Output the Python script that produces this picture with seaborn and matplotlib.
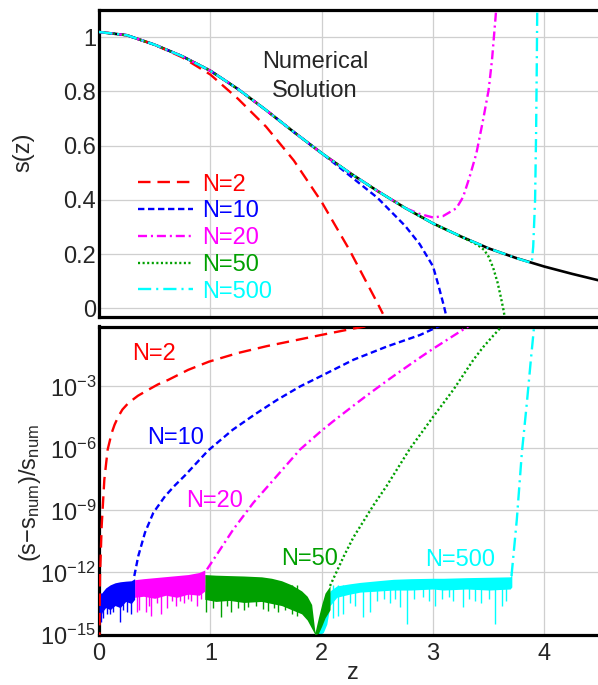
import numpy as np
import seaborn as sns
import matplotlib.pyplot as plt
from matplotlib.ticker import FixedLocator, FixedFormatter, LogFormatterSciNotation, NullLocator

sns.set_style("white")
plt.rcParams['font.family'] = ['Liberation Sans', 'DejaVu Sans']
plt.rcParams['mathtext.fontset'] = 'custom'
plt.rcParams['mathtext.rm'] = 'Liberation Sans'
plt.rcParams['mathtext.it'] = 'Liberation Sans:italic'
plt.rcParams['mathtext.default'] = 'regular'
plt.rcParams['lines.scale_dashes'] = False

# ---- top panel: s(z) ----
z_num = [0.0, 0.25, 0.5, 0.75, 1.0, 1.25, 1.5, 1.75, 2.0, 2.25, 2.5, 2.75, 3.0,
         3.25, 3.5, 3.75, 4.0, 4.25, 4.5]
s_num = [1.019, 1.007, 0.972, 0.929, 0.876, 0.808, 0.731, 0.650, 0.572, 0.500,
         0.433, 0.370, 0.313, 0.265, 0.221, 0.185, 0.154, 0.127, 0.102]

z_n2 = [0.0, 0.25, 0.5, 0.75, 1.0, 1.25, 1.5, 1.75, 2.0, 2.25, 2.5, 2.55]
s_n2 = [1.019, 1.007, 0.972, 0.925, 0.862, 0.772, 0.67, 0.545, 0.392, 0.215, 0.02, -0.02]

z_n10 = [0.0, 0.25, 0.5, 0.75, 1.0, 1.25, 1.5, 1.75, 2.0, 2.25, 2.5, 2.75, 2.88,
         3.0, 3.05, 3.1, 3.12]
s_n10 = [1.019, 1.007, 0.972, 0.929, 0.876, 0.808, 0.731, 0.650, 0.572, 0.490,
         0.408, 0.304, 0.237, 0.155, 0.083, 0.005, -0.03]

z_n20 = [0.0, 0.25, 0.5, 0.75, 1.0, 1.25, 1.5, 1.75, 2.0, 2.25, 2.5, 2.75, 2.88,
         3.0, 3.09, 3.21, 3.27, 3.33, 3.39, 3.45, 3.5, 3.53, 3.56, 3.575]
s_n20 = [1.019, 1.007, 0.972, 0.929, 0.876, 0.808, 0.731, 0.650, 0.572, 0.500,
         0.433, 0.370, 0.348, 0.335, 0.34, 0.369, 0.41, 0.486, 0.572, 0.695,
         0.806, 0.916, 1.064, 1.14]

z_n50 = [0.0, 0.25, 0.5, 0.75, 1.0, 1.25, 1.5, 1.75, 2.0, 2.25, 2.5, 2.75, 3.0,
         3.25, 3.4, 3.46, 3.5, 3.54, 3.58, 3.61, 3.635, 3.645]
s_n50 = [1.019, 1.007, 0.972, 0.929, 0.876, 0.808, 0.731, 0.650, 0.572, 0.500,
         0.433, 0.370, 0.313, 0.265, 0.234, 0.215, 0.19, 0.15, 0.095, 0.04,
         -0.01, -0.035]

z_n500 = [0.0, 0.25, 0.5, 0.75, 1.0, 1.25, 1.5, 1.75, 2.0, 2.25, 2.5, 2.75, 3.0,
          3.25, 3.5, 3.75, 3.887, 3.9, 3.917, 3.926, 3.932, 3.937]
s_n500 = [1.019, 1.007, 0.972, 0.929, 0.876, 0.808, 0.731, 0.650, 0.572, 0.500,
          0.433, 0.370, 0.313, 0.265, 0.221, 0.185, 0.167, 0.227, 0.4, 0.646,
          0.89, 1.14]

# ---- bottom panel: log10 of relative error ----
ze_n2 = [0.003, 0.009, 0.024, 0.048, 0.078, 0.114, 0.14, 0.174, 0.21, 0.264,
         0.35, 0.443, 0.53, 0.623, 0.8, 0.988, 1.25, 1.507, 1.806, 1.986, 2.285,
         2.41, 2.53]
le_n2 = [-15.5, -12.2, -9.75, -7.5, -6.05, -5.25, -4.85, -4.45, -4.12, -3.8,
         -3.45, -3.16, -2.9, -2.68, -2.2, -1.8, -1.38, -1.05, -0.72, -0.52, -0.2,
         -0.08, 0.02]

ze_n10 = [0.317, 0.353, 0.413, 0.488, 0.593, 0.683, 0.773, 0.98, 1.2, 1.4, 1.6,
          1.806, 1.986, 2.285, 2.585, 2.884, 3.06, 3.11]
le_n10 = [-12.17, -11.2, -10.07, -9.11, -8.31, -7.78, -7.3, -6.1, -5.1, -4.35,
          -3.65, -3.0, -2.52, -1.71, -1.07, -0.51, -0.07, 0.05]

ze_n20 = [0.97, 1.05, 1.207, 1.386, 1.596, 1.806, 1.986, 2.1, 2.285, 2.4, 2.585,
          2.7, 2.884, 3.0, 3.183, 3.3, 3.38]
le_n20 = [-11.85, -11.2, -9.91, -8.63, -7.34, -6.05, -5.2, -4.7, -3.93, -3.46,
          -2.73, -2.29, -1.6, -1.18, -0.55, -0.15, 0.12]

ze_n50 = [2.075, 2.2, 2.285, 2.465, 2.585, 2.794, 3.004, 3.183, 3.363, 3.45,
          3.54, 3.6, 3.635]
le_n50 = [-12.65, -11.2, -10.3, -8.75, -7.8, -6.0, -4.45, -3.16, -1.71, -1.1,
          -0.55, -0.2, 0.03]

ze_n500 = [3.705, 3.753, 3.798, 3.843, 3.879, 3.908, 3.918]
le_n500 = [-12.17, -9.43, -6.21, -3.8, -1.71, -0.1, 0.05]

# round-off noise floor: band (upper / lower edge) and downward spikes
zb_n10 = [0.0, 0.03, 0.06, 0.1, 0.144, 0.19, 0.24, 0.29, 0.32]
ub_n10 = [-13.2, -12.95, -12.75, -12.6, -12.5, -12.45, -12.42, -12.4, -12.3]
lb_n10 = [-14.3, -13.9, -13.7, -13.8, -13.6, -13.7, -13.4, -13.5, -13.3]
zs_n10 = [0.02, 0.04, 0.07, 0.1, 0.13, 0.19, 0.22, 0.25, 0.29]
ls_n10 = [-14.4, -14.2, -14.0, -14.0, -13.9, -14.4, -13.8, -13.9, -14.0]

zb_n20 = [0.32, 0.4, 0.5, 0.6, 0.7, 0.8, 0.9, 0.95]
ub_n20 = [-12.35, -12.3, -12.25, -12.2, -12.15, -12.1, -12.0, -11.88]
lb_n20 = [-13.2, -13.15, -13.25, -13.1, -13.2, -13.05, -13.1, -12.9]
zs_n20 = [0.34, 0.36, 0.42, 0.45, 0.47, 0.52, 0.56, 0.61, 0.66, 0.69, 0.73,
          0.76, 0.8, 0.83, 0.88, 0.92]
ls_n20 = [-13.9, -13.8, -13.9, -13.6, -14.1, -13.5, -14.0, -13.7, -13.4, -13.6,
          -13.4, -13.5, -13.3, -13.4, -13.6, -13.3]

zb_n50 = [0.95, 1.05, 1.17, 1.3, 1.46, 1.55, 1.64, 1.73, 1.82, 1.87, 1.91, 1.94,
          1.97, 2.0, 2.03, 2.075]
ub_n50 = [-12.1, -12.13, -12.15, -12.17, -12.21, -12.28, -12.4, -12.6, -12.89,
          -13.15, -13.55, -14.9, -14.2, -13.55, -13.0, -12.65]
lb_n50 = [-13.3, -13.4, -13.35, -13.45, -13.4, -13.5, -13.6, -13.8, -14.0, -14.3,
          -14.7, -15.0, -14.95, -14.6, -14.2, -13.8]
zs_n50 = [0.96, 1.02, 1.1, 1.15, 1.19, 1.25, 1.3, 1.34, 1.41, 1.47, 1.52, 1.57,
          1.61, 1.67, 1.73, 1.78]
ls_n50 = [-13.9, -13.7, -14.17, -13.6, -13.93, -13.7, -13.8, -13.69, -13.6,
          -13.75, -13.85, -13.7, -13.93, -13.8, -14.0, -14.1]

zb_n500 = [1.94, 1.98, 2.015, 2.046, 2.075, 2.136, 2.25, 2.345, 2.5, 2.644, 2.8,
           3.0, 3.093, 3.3, 3.5, 3.693, 3.708]
ub_n500 = [-15.0, -14.6, -14.34, -13.5, -12.89, -12.65, -12.55, -12.48, -12.4,
           -12.33, -12.3, -12.28, -12.28, -12.25, -12.23, -12.21, -12.1]
lb_n500 = [-15.0, -15.0, -14.9, -14.5, -13.6, -13.2, -13.05, -12.95, -12.9,
           -12.85, -12.85, -12.8, -12.85, -12.8, -12.85, -12.8, -12.7]
zs_n500 = [2.1, 2.15, 2.195, 2.25, 2.3, 2.375, 2.435, 2.5, 2.56, 2.61, 2.66,
           2.704, 2.765, 2.83, 2.914, 2.96, 3.019, 3.08, 3.14, 3.184, 3.273,
           3.32, 3.38, 3.43, 3.5, 3.558, 3.618, 3.66]
ls_n500 = [-14.2, -14.1, -14.01, -13.5, -13.6, -14.17, -13.93, -13.4, -13.3,
           -13.5, -13.3, -13.69, -14.5, -13.3, -13.21, -13.4, -13.61, -13.3,
           -13.2, -13.37, -13.69, -13.3, -13.4, -13.5, -13.3, -14.5, -13.61, -13.4]

labels = ["N=2", "N=10", "N=20", "N=50", "N=500"]
label_z = [0.498, 0.692, 1.042, 1.887, 3.244]
label_log = [-1.42, -5.5, -8.54, -11.35, -11.4]

x_ticks = [0, 1, 2, 3, 4]
x_ticklabels = ["0", "1", "2", "3", "4"]
y_ticks_top = [0, 0.2, 0.4, 0.6, 0.8, 1.0]
y_ticklabels_top = ["0", "0.2", "0.4", "0.6", "0.8", "1"]
y_ticks_bot = [1e-15, 1e-12, 1e-9, 1e-6, 1e-3]

colors = ["#ff0000", "#0000ff", "#ff00ff", "#00a000", "#00ffff"]
styles = [(0, (9.0, 5.0)), (0, (4.6, 2.6)), (0, (6.5, 2.8, 1.5, 2.8)),
          (0, (1.5, 1.8)), (0, (9.5, 3.6, 1.5, 3.6))]
FS = 17

fig = plt.figure(figsize=(5.98, 6.85), dpi=100)
ax1 = fig.add_axes([99 / 598, 1 - 317 / 685, 501 / 598, 307 / 685])
ax2 = fig.add_axes([99 / 598, 1 - 634.5 / 685, 501 / 598, 308 / 685])

# top panel
sns.lineplot(x=z_num, y=s_num, ax=ax1, color="black", linewidth=1.9,
             estimator=None, sort=False, zorder=2)
top_z = [z_n2, z_n10, z_n20, z_n50, z_n500]
top_s = [s_n2, s_n10, s_n20, s_n50, s_n500]
handles = []
for i in range(5):
    sns.lineplot(x=top_z[i], y=top_s[i], ax=ax1, color=colors[i], linewidth=1.7,
                 linestyle=styles[i], estimator=None, sort=False, zorder=3 + i)
    handles.append(ax1.get_lines()[-1])

ax1.set_xlim(0, 4.5)
ax1.set_ylim(-0.032, 1.10)
ax1.text(1.94, 0.855, "Numerical\nSolution", ha="center", va="center",
         fontsize=FS, linespacing=1.45)
leg = ax1.legend(handles, labels, loc="upper left", bbox_to_anchor=(0.077, 0.467),
                 frameon=False, fontsize=FS, handlelength=2.35, handletextpad=0.4,
                 labelspacing=0.2, borderpad=0, borderaxespad=0)
for t, c in zip(leg.get_texts(), colors):
    t.set_color(c)

# bottom panel
ax2.set_yscale("log")
bands = [(zb_n500, ub_n500, lb_n500, zs_n500, ls_n500, 4, -12.6),
         (zb_n50, ub_n50, lb_n50, zs_n50, ls_n50, 3, -12.6),
         (zb_n20, ub_n20, lb_n20, zs_n20, ls_n20, 2, -12.6),
         (zb_n10, ub_n10, lb_n10, zs_n10, ls_n10, 1, -13.0)]
for zb, ub, lb, zs, ls, ci, top in bands:
    ax2.fill_between(zb, 10.0 ** np.array(ub), 10.0 ** np.array(lb),
                     color=colors[ci], linewidth=0, zorder=2 + (4 - ci))
    ax2.vlines(zs, 10.0 ** np.array(ls), 10.0 ** top, color=colors[ci],
               linewidth=1.0, zorder=2 + (4 - ci))

err_z = [ze_n2, ze_n10, ze_n20, ze_n50, ze_n500]
err_l = [le_n2, le_n10, le_n20, le_n50, le_n500]
for i in range(5):
    sns.lineplot(x=err_z[i], y=10.0 ** np.array(err_l[i]), ax=ax2,
                 color=colors[i], linewidth=1.7, linestyle=styles[i],
                 estimator=None, sort=False, zorder=10 - i)
    ax2.text(label_z[i], 10.0 ** label_log[i], labels[i], color=colors[i],
             ha="center", va="center", fontsize=FS)

ax2.set_xlim(0, 4.5)
ax2.set_ylim(1e-15, 10 ** -0.1)

for ax in (ax1, ax2):
    ax.xaxis.set_major_locator(FixedLocator(x_ticks))
    ax.grid(True, which="major", color="#cfcfcf", linewidth=0.9)
    ax.set_axisbelow(True)
    ax.tick_params(direction="in", length=5, width=1.3, labelsize=FS,
                   top=False, right=False, pad=2)
    for side in ("left", "top", "bottom"):
        ax.spines[side].set_linewidth(2.3)
        ax.spines[side].set_color("black")
    ax.spines["right"].set_visible(False)

ax1.yaxis.set_major_locator(FixedLocator(y_ticks_top))
ax1.yaxis.set_major_formatter(FixedFormatter(y_ticklabels_top))
ax1.tick_params(axis="x", labelbottom=False)

ax2.yaxis.set_major_locator(FixedLocator(y_ticks_bot))
ax2.yaxis.set_minor_locator(NullLocator())
ax2.yaxis.set_major_formatter(LogFormatterSciNotation())
ax2.xaxis.set_major_formatter(FixedFormatter(x_ticklabels))
ax2.tick_params(axis="x", pad=6)

ax1.set_ylabel("s(z)", fontsize=FS)
ax1.yaxis.set_label_coords(-0.128, 0.537)
ax2.set_ylabel(r"$(s{-}s_{num})/s_{num}$", fontsize=FS)
ax2.yaxis.set_label_coords(-0.112, 0.459)
ax2.set_xlabel("z", fontsize=FS)
ax2.xaxis.set_label_coords(0.507, -0.088)

fig.savefig("out.png", dpi=100)
